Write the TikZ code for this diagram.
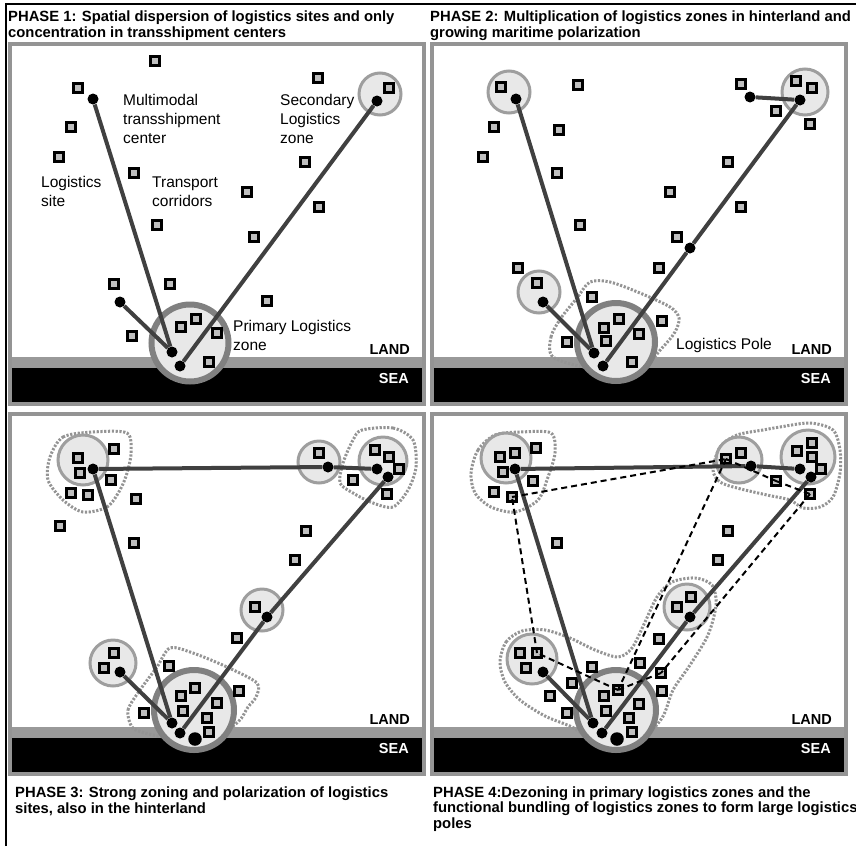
\documentclass[tikz,border=0pt]{standalone}
\usepackage{fontspec}
\setmainfont{Liberation Sans}
\begin{document}
\begin{tikzpicture}
  [x=1pt,y=-1pt,
   every node/.style={inner sep=0pt},
   site/.style={rectangle,draw=black,line width=2.9pt,fill=black!25,minimum size=9.2pt},
   hub/.style={circle,fill=black,minimum size=11pt},
   bighub/.style={circle,fill=black,minimum size=13.5pt},
   zone/.style={circle,draw=black!38,line width=3pt,fill=black!9},
   primzone/.style={zone,draw=black!50,line width=6pt},
   corridor/.style={draw=black!75,line width=4pt},
   bundle/.style={draw=black,line width=2pt,dash pattern=on 6pt off 4pt},
   pole/.style={draw=black!42,line width=3pt,dash pattern=on 2.2pt off 1.6pt},
   panel/.style={draw=black!42,line width=4pt},
   note/.style={font=\fontsize{15.5}{19}\selectfont,align=left,anchor=base west},
   phase/.style={font=\bfseries\fontsize{14.8}{15.5}\selectfont,align=left,anchor=base west},
   strip/.style={font=\bfseries\fontsize{14.5}{16}\selectfont,anchor=base east}]
  \useasboundingbox (0,0) rectangle (856,846);
  \draw[line width=1.2pt] (6,846) -- (6,4) -- (856,4);

  \foreach \dx/\dy/\p in {0/0/1,422/0/2,0/370/3,422/370/4}{
    \fill[black] (10+\dx,368+\dy) rectangle (424+\dx,404+\dy);
    \fill[black!40] (10+\dx,357+\dy) rectangle (424+\dx,368+\dy);
    \draw[panel] (10+\dx,44+\dy) rectangle (424+\dx,404+\dy);
    \node[strip] (land\p) at (410+\dx,354+\dy) {LAND};
    \node[strip,text=white] (sea\p) at (409+\dx,383+\dy) {SEA};
  }

  \node[phase] (t1) at (8,37) {PHASE 1: Spatial dispersion of logistics sites and only\\concentration in transshipment centers};
  \node[phase] (t2) at (430,37) {PHASE 2: Multiplication of logistics zones in hinterland and\\growing maritime polarization};
  \node[phase] (t3) at (15,813) {PHASE 3: Strong zoning and polarization of logistics\\sites, also in the hinterland};
  \node[phase] (t4) at (433,828) {PHASE 4:Dezoning in primary logistics zones and the\\functional bundling of logistics zones to form large logistics\\poles};

  % phase 1
  \node[zone,minimum size=42pt]     (az1) at (380,94)  {};
  \node[primzone,minimum size=77pt] (az2) at (190,343) {};
  \foreach \x/\y [count=\i] in {155/61,318/78,78/88,389/88,71/127,59/157,134/173,305/162,247/192,319/207,
      157/225,254/237,114/284,170/284,267/301,196/319,181/327,217/333,132/336,209/362}
    \node[site] (as\i) at (\x,\y) {};
  \node[hub] (ah1) at (93,99)   {};
  \node[hub] (ah2) at (377,101) {};
  \node[hub] (ah3) at (120,302) {};
  \node[hub] (ah4) at (172,352) {};
  \node[hub] (ah5) at (180,366) {};
  \foreach \from/\to in {ah1/ah4,ah3/ah4,ah2/ah5}
    \draw[corridor] (\from) -- (\to);
  \node[note] (m1) at (123,143) {Multimodal\\transshipment\\center};
  \node[note] (m2) at (280,143) {Secondary\\Logistics\\zone};
  \node[note] (m3) at (41,206)  {Logistics\\site};
  \node[note] (m4) at (152,206) {Transport\\corridors};
  \node[note] (m5) at (233,350) {Primary Logistics\\zone};

  % phase 2
  \draw[pole] plot[smooth cycle] coordinates {(553,357) (551,337) (561,318) (577,298) (590,282) (610,282)
      (640,293) (670,307) (679,318) (675,332) (662,348) (640,368) (590,368)};
  \node[zone,minimum size=42pt]     (bz1) at (509,92)  {};
  \node[zone,minimum size=46pt]     (bz2) at (805,92)  {};
  \node[zone,minimum size=42pt]     (bz3) at (539,292) {};
  \node[primzone,minimum size=78pt] (bz4) at (616,342) {};
  \foreach \x/\y [count=\i] in {501/87,578/85,741/84,796/81,812/88,776/111,810/124,494/127,559/130,483/157,
      557/173,728/162,670/192,741/207,580/225,677/237,659/268,518/268,537/283,592/297,
      619/319,604/328,662/321,639/334,606/341,567/342,632/362}
    \node[site] (bs\i) at (\x,\y) {};
  \node[hub] (bh1) at (516,99)  {};
  \node[hub] (bh2) at (750,97)  {};
  \node[hub] (bh3) at (800,100) {};
  \node[hub] (bh4) at (690,248) {};
  \node[hub] (bh5) at (543,302) {};
  \node[hub] (bh6) at (594,353) {};
  \node[hub] (bh7) at (603,366) {};
  \foreach \from/\to in {bh1/bh6,bh5/bh6,bh3/bh4,bh4/bh7,bh2/bh3}
    \draw[corridor] (\from) -- (\to);
  \node[note] (m6) at (676,349) {Logistics Pole};

  % phase 3
  \draw[pole] plot[smooth cycle] coordinates {(50,457) (63,437) (93,432) (127,433) (131,453) (127,473)
      (120,490) (107,507) (83,512) (63,500) (48,480)};
  \draw[pole] plot[smooth cycle] coordinates {(362,430) (393,428) (413,440) (416,467) (408,490) (393,507)
      (373,503) (353,493) (340,483) (343,463) (353,440)};
  \draw[pole] plot[smooth cycle] coordinates {(132,727) (128,710) (140,690) (157,667) (170,648) (193,653)
      (227,667) (257,683) (256,697) (248,707) (238,722) (212,738) (172,738) (145,733)};
  \node[zone,minimum size=50pt]     (cz1) at (83,460)  {};
  \node[zone,minimum size=42pt]     (cz2) at (319,462) {};
  \node[zone,minimum size=48pt]     (cz3) at (383,461) {};
  \node[zone,minimum size=42pt]     (cz4) at (262,610) {};
  \node[zone,minimum size=46pt]     (cz5) at (113,663) {};
  \node[primzone,minimum size=80pt] (cz6) at (194,710) {};
  \foreach \x/\y [count=\i] in {78/458,114/449,80/473,111/480,71/493,88/495,136/499,60/526,134/543,319/453,
      375/450,389/457,399/469,353/480,387/494,306/531,295/560,255/607,237/638,114/653,
      104/668,169/666,195/688,181/696,239/691,217/703,183/711,144/713,207/718,209/732}
    \node[site] (cs\i) at (\x,\y) {};
  \node[hub]    (ch1) at (93,469)  {};
  \node[hub]    (ch2) at (328,467) {};
  \node[hub]    (ch3) at (377,469) {};
  \node[hub]    (ch4) at (388,477) {};
  \node[hub]    (ch5) at (267,617) {};
  \node[hub]    (ch6) at (120,672) {};
  \node[hub]    (ch7) at (172,723) {};
  \node[hub]    (ch8) at (180,733) {};
  \node[bighub] (ch9) at (195,739) {};
  \foreach \from/\to in {ch1/ch2,ch2/ch3,ch1/ch7,ch6/ch7,ch4/ch5,ch5/ch8}
    \draw[corridor] (\from) -- (\to);

  % phase 4
  \draw[pole] plot[smooth cycle] coordinates {(471,473) (478,450) (495,435) (521,432) (551,433) (555,453)
      (548,477) (538,500) (515,512) (491,507) (475,493)};
  \draw[pole] plot[smooth cycle] coordinates {(713,470) (720,447) (737,435) (763,430) (780,427) (810,423)
      (833,430) (840,450) (840,473) (833,497) (820,507) (803,508) (790,500) (767,495) (737,488) (720,482)};
  \draw[pole] plot[smooth cycle] coordinates {(500,662) (506,642) (522,631) (545,630) (570,638) (595,650)
      (618,657) (632,648) (645,622) (657,597) (672,582) (695,578) (712,585) (716,605) (708,635) (690,665)
      (673,690) (662,718) (640,738) (595,740) (572,727) (545,716) (520,700) (505,682)};
  \node[zone,minimum size=50pt]     (dz1) at (506,458) {};
  \node[zone,minimum size=46pt]     (dz2) at (739,460) {};
  \node[zone,minimum size=54pt]     (dz3) at (808,457) {};
  \node[zone,minimum size=46pt]     (dz4) at (687,607) {};
  \node[zone,minimum size=50pt]     (dz5) at (532,659) {};
  \node[primzone,minimum size=80pt] (dz6) at (616,710) {};
  \foreach \x/\y [count=\i] in {500/457,515/453,536/448,503/472,533/481,494/492,512/497,557/543,726/459,741/453,
      776/481,797/451,812/443,812/457,821/469,810/494,728/531,718/560,677/607,691/597,
      659/639,640/663,661/673,662/691,592/667,572/683,550/696,567/713,520/653,537/653,
      526/668,618/690,604/696,606/711,639/704,629/718,632/732}
    \node[site] (ds\i) at (\x,\y) {};
  \node[hub]    (dh1) at (515,469) {};
  \node[hub]    (dh2) at (751,466) {};
  \node[hub]    (dh3) at (800,469) {};
  \node[hub]    (dh4) at (811,477) {};
  \node[hub]    (dh5) at (690,617) {};
  \node[hub]    (dh6) at (543,672) {};
  \node[hub]    (dh7) at (593,723) {};
  \node[hub]    (dh8) at (602,733) {};
  \node[bighub] (dh9) at (617,739) {};
  \foreach \from/\to in {dh1/dh2,dh2/dh3,dh1/dh7,dh6/dh7,dh4/dh5,dh5/dh8}
    \draw[corridor] (\from) -- (\to);
  \foreach \from/\to in {ds7/ds9,ds9/ds11,ds11/ds16,ds16/ds23,ds23/ds32,ds32/ds30,ds30/ds7,ds9/ds32}
    \draw[bundle] (\from.center) -- (\to.center);

\end{tikzpicture}
\end{document}
